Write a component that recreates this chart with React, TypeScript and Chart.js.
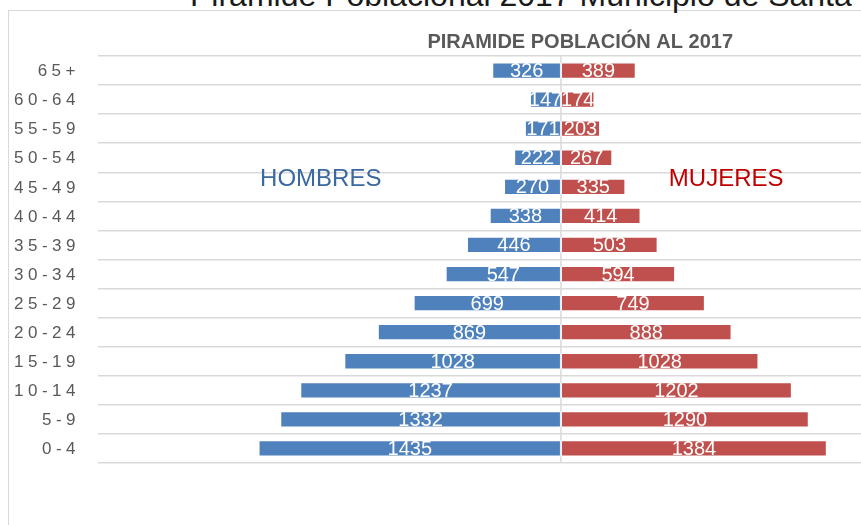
import React, { useEffect, useRef } from "react";
import { Chart, registerables } from "chart.js";

Chart.register(...registerables);

const ageGroups = ["65+", "60-64", "55-59", "50-54", "45-49", "40-44", "35-39", "30-34", "25-29", "20-24", "15-19", "10-14", "5-9", "0-4"];
const hombres = [326, 147, 171, 222, 270, 338, 446, 547, 699, 869, 1028, 1237, 1332, 1435];
const mujeres = [389, 174, 203, 267, 335, 414, 503, 594, 749, 888, 1028, 1202, 1290, 1384];

const chartTitle = "PIRAMIDE POBLACIÓN AL 2017";
const pageTitle = "Pirámide Poblacional 2017 Municipio de Santa";
const maleLabel = "HOMBRES";
const femaleLabel = "MUJERES";

const BLUE = "#4F81BD";
const RED = "#C0504D";

const overlayPlugin = {
  id: "overlay",
  beforeDatasetsDraw(chart: any) {
    const { ctx, chartArea, scales } = chart;
    const x0 = scales.xM.getPixelForValue(0);
    ctx.save();
    ctx.strokeStyle = "#d9d9d9";
    ctx.lineWidth = 1.5;
    ctx.beginPath();
    ctx.moveTo(x0, chartArea.top);
    ctx.lineTo(x0, chartArea.bottom);
    ctx.stroke();
    ctx.restore();
  },
  afterDatasetsDraw(chart: any) {
    const { ctx, chartArea, scales } = chart;
    ctx.save();
    // value labels
    ctx.fillStyle = "#ffffff";
    ctx.font = "20px 'Liberation Sans', Arial, sans-serif";
    ctx.textAlign = "center";
    ctx.textBaseline = "middle";
    chart.data.datasets.forEach((ds: any, di: number) => {
      const meta = chart.getDatasetMeta(di);
      meta.data.forEach((el: any, i: number) => {
        const cx = (el.x + el.base) / 2;
        ctx.fillText(String(ds.data[i]), cx, el.y + 1);
      });
    });
    // y tick labels with letter spacing
    const y = scales.y;
    ctx.fillStyle = "#595959";
    ctx.font = "17px 'Liberation Sans', Arial, sans-serif";
    ctx.textAlign = "right";
    (ctx as any).letterSpacing = "4.5px";
    chart.data.labels.forEach((lab: string, i: number) => {
      ctx.fillText(lab, chartArea.left - 18, y.getPixelForValue(i) + 1);
    });
    (ctx as any).letterSpacing = "0px";
    // chart title
    ctx.fillStyle = "#595959";
    ctx.font = "bold 20px 'Liberation Sans', Arial, sans-serif";
    ctx.textAlign = "center";
    ctx.textBaseline = "middle";
    ctx.fillText(chartTitle, scales.xF.getPixelForValue(100), chartArea.top - 14);
    // annotations
    ctx.font = "24px 'Liberation Sans', Arial, sans-serif";
    const ay = y.getPixelForValue(3.73);
    ctx.fillStyle = "#3A68A0";
    ctx.fillText(maleLabel, scales.xM.getPixelForValue(1140), ay);
    ctx.fillStyle = "#C00000";
    ctx.fillText(femaleLabel, scales.xF.getPixelForValue(860), ay);
    ctx.restore();
  },
};

export default function App() {
  const canvasRef = useRef<HTMLCanvasElement | null>(null);

  useEffect(() => {
    if (!canvasRef.current) return;
    const chart = new Chart(canvasRef.current, {
      type: "bar",
      data: {
        labels: ageGroups,
        datasets: [
          {
            label: maleLabel,
            data: hombres,
            xAxisID: "xM",
            backgroundColor: BLUE,
            borderColor: "rgba(255,255,255,0.45)",
            borderWidth: 1,
            borderSkipped: false,
            grouped: false,
            barPercentage: 0.56,
            categoryPercentage: 1,
          } as any,
          {
            label: femaleLabel,
            data: mujeres,
            xAxisID: "xF",
            backgroundColor: RED,
            borderColor: "rgba(255,255,255,0.45)",
            borderWidth: 1,
            borderSkipped: false,
            grouped: false,
            barPercentage: 0.56,
            categoryPercentage: 1,
          } as any,
        ],
      },
      options: {
        indexAxis: "y",
        animation: false,
        responsive: true,
        maintainAspectRatio: false,
        layout: { padding: { left: 98, top: 56, right: 0, bottom: 62 } },
        plugins: {
          legend: { display: false },
          title: { display: false },
          tooltip: { enabled: false },
        },
        scales: {
          xM: {
            type: "linear",
            axis: "x",
            position: "bottom",
            reverse: true,
            min: -1424,
            max: 2197,
            display: false,
          },
          xF: {
            type: "linear",
            axis: "x",
            position: "top",
            min: -2411,
            max: 1562,
            display: false,
          },
          y: {
            type: "category",
            ticks: { display: false },
            border: { display: false },
            grid: {
              color: "#d9d9d9",
              lineWidth: 1.5,
              drawTicks: false,
              offset: true,
            },
          },
        } as any,
      },
      plugins: [overlayPlugin],
    });
    return () => chart.destroy();
  }, []);

  return (
    <div
      style={{
        position: "fixed",
        left: 0,
        top: 0,
        width: 861,
        height: 525,
        overflow: "hidden",
        background: "#ffffff",
      }}
    >
      <div
        style={{
          position: "absolute",
          left: 8,
          top: 10,
          width: 900,
          height: 600,
          border: "1px solid #d9d9d9",
          boxSizing: "border-box",
        }}
      />
      <div
        style={{
          position: "absolute",
          left: 190,
          top: -21,
          whiteSpace: "nowrap",
          font: "32px 'Liberation Sans', Arial, sans-serif",
          lineHeight: "32px",
          color: "#1a1a1a",
        }}
      >
        {pageTitle}
      </div>
      <div style={{ position: "absolute", left: 0, top: 0, width: 861, height: 525 }}>
        <canvas ref={canvasRef} />
      </div>
    </div>
  );
}
